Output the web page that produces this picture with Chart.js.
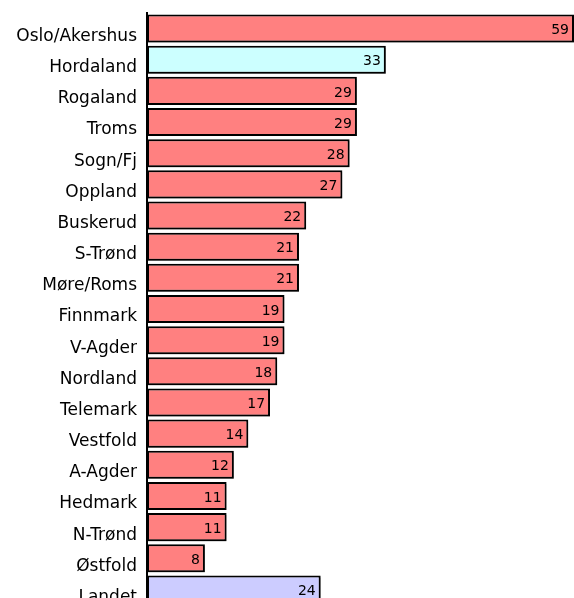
<!DOCTYPE html>
<html>
<head>
<meta charset="utf-8">
<script src="https://cdn.jsdelivr.net/npm/chart.js@4"></script>
<style>
  html, body { margin: 0; padding: 0; background: #fff; overflow: hidden; }
  #wrap { width: 574px; height: 598px; overflow: hidden; }
  canvas { display: block; }
</style>
</head>
<body>
<div id="wrap"><canvas id="chart" width="574" height="605"></canvas></div>
<script>
// Fylker og verdier
const regions = ['Oslo/Akershus', 'Hordaland', 'Rogaland', 'Troms', 'Sogn/Fj', 'Oppland',
  'Buskerud', 'S-Trønd', 'Møre/Roms', 'Finnmark', 'V-Agder', 'Nordland', 'Telemark',
  'Vestfold', 'A-Agder', 'Hedmark', 'N-Trønd', 'Østfold', 'Landet'];
const values = [59, 33, 29, 29, 28, 27, 22, 21, 21, 19, 19, 18, 17, 14, 12, 11, 11, 8, 24];
const axisMax = 59;

const barColors = regions.map(r => {
  if (r === 'Hordaland') return '#ccffff';
  if (r === 'Landet') return '#ccccff';
  return '#ff8080';
});

// shadow under bars + value labels at the bar end
const barExtras = {
  id: 'barExtras',
  beforeDatasetsDraw(chart) {
    const ctx = chart.ctx;
    ctx.save();
    ctx.shadowColor = 'rgba(0,0,0,0.35)';
    ctx.shadowOffsetY = 2;
    ctx.shadowBlur = 0;
  },
  afterDatasetsDraw(chart) {
    const ctx = chart.ctx;
    ctx.restore();
    const meta = chart.getDatasetMeta(0);
    ctx.save();
    ctx.font = '14px "DejaVu Sans"';
    ctx.fillStyle = '#000';
    ctx.textAlign = 'right';
    ctx.textBaseline = 'middle';
    meta.data.forEach((bar, i) => {
      ctx.fillText(values[i], bar.x - 5, bar.y + 2);
    });
    ctx.restore();
  }
};

new Chart(document.getElementById('chart'), {
  type: 'bar',
  data: {
    labels: regions,
    datasets: [{
      data: values,
      backgroundColor: barColors,
      borderColor: '#000',
      borderWidth: 2,
      borderSkipped: false,
      barPercentage: 0.9,
      categoryPercentage: 1
    }]
  },
  options: {
    indexAxis: 'y',
    responsive: false,
    animation: false,
    layout: { padding: { top: 13, right: 0, bottom: 0, left: 0 } },
    plugins: {
      legend: { display: false },
      tooltip: { enabled: false }
    },
    scales: {
      x: {
        display: false,
        min: 0,
        max: axisMax
      },
      y: {
        afterFit(scale) {
          scale.width = 147;
          scale.paddingTop = 0;
          scale.paddingBottom = 0;
        },
        grid: { display: false, drawTicks: false },
        border: { display: true, color: '#000', width: 2 },
        ticks: {
          color: '#000',
          padding: 10,
          labelOffset: 8,
          font: { family: 'DejaVu Sans', size: 17 }
        }
      }
    }
  },
  plugins: [barExtras]
});
</script>
</body>
</html>
